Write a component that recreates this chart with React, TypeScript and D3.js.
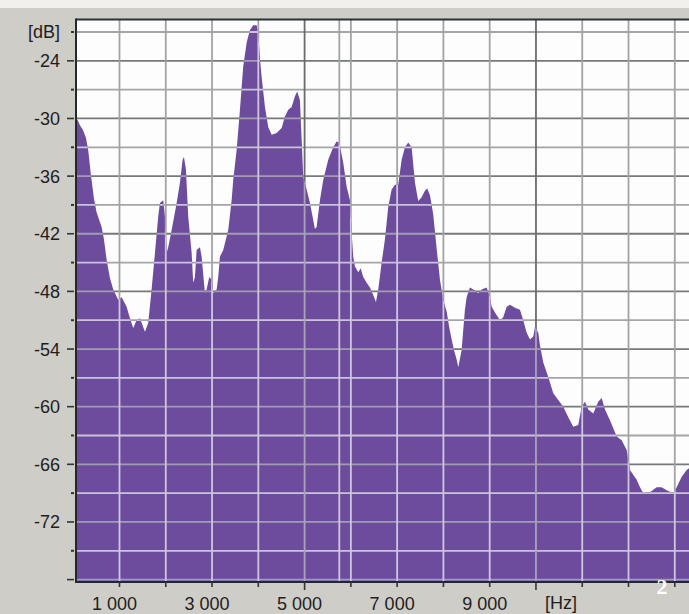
import React from "react";
import * as d3 from "d3";

// spectrum envelope: frequency (Hz) and level (dB)
const FREQ_HZ = [
  60, 100, 145, 210, 275, 324, 383, 447, 506, 614, 664, 722, 793, 865, 973, 1046, 1154, 1225, 1297, 1370,
  1442, 1550, 1621, 1694, 1766, 1837, 1874, 1945, 1982, 2019, 2053, 2127, 2235, 2306, 2364, 2393, 2436, 2485, 2559, 2593,
  2630, 2667, 2738, 2775, 2846, 2883, 2939, 2991, 3026, 3099, 3134, 3170, 3242, 3350, 3423, 3458, 3531, 3603, 3674, 3748,
  3819, 3890, 3964, 3998, 4035, 4072, 4143, 4214, 4288, 4396, 4504, 4575, 4647, 4720, 4791, 4841, 4899, 4936, 4971, 5044,
  5116, 5187, 5223, 5260, 5332, 5403, 5511, 5619, 5692, 5749, 5835, 5909, 5980, 6017, 6051, 6088, 6160, 6211, 6267, 6341,
  6412, 6484, 6542, 6592, 6665, 6736, 6808, 6881, 6952, 7024, 7097, 7169, 7240, 7313, 7385, 7456, 7530, 7602, 7651, 7709,
  7780, 7853, 7925, 7996, 8070, 8120, 8178, 8228, 8286, 8321, 8394, 8429, 8465, 8502, 8573, 8645, 8753, 8826, 8934, 9006,
  9043, 9114, 9222, 9293, 9367, 9438, 9546, 9654, 9725, 9799, 9870, 9942, 9978, 10050, 10086, 10158, 10266, 10374, 10482, 10590,
  10698, 10806, 10914, 10988, 11059, 11130, 11238, 11346, 11420, 11491, 11599, 11744, 11852, 11960, 12031, 12176, 12248, 12319, 12464, 12608,
  12716, 12824, 12967, 13041, 13149, 13257, 13307,
];
const LEVEL_DB = [
  -30.0, -30.2, -30.7, -31.2, -32.0, -33.3, -35.9, -38.3, -39.8, -41.3, -42.6, -44.7, -46.6, -47.8, -48.9, -48.6, -49.6, -50.8, -51.8, -51.0,
  -50.8, -52.2, -51.3, -47.8, -44.0, -40.2, -38.8, -38.5, -40.2, -44.0, -43.4, -41.6, -38.8, -36.7, -34.3, -34.0, -35.3, -40.2, -44.0, -47.1,
  -46.5, -43.7, -43.4, -44.4, -48.2, -47.8, -46.5, -46.8, -48.2, -47.8, -46.5, -44.4, -43.7, -41.6, -38.5, -36.4, -33.3, -29.1, -24.6, -22.1,
  -20.8, -20.3, -20.3, -21.1, -23.7, -25.7, -28.8, -30.9, -31.7, -31.5, -31.0, -29.8, -29.1, -28.8, -27.7, -27.2, -28.1, -32.2, -36.1, -37.4,
  -38.8, -40.6, -41.5, -41.3, -38.5, -36.4, -34.3, -33.0, -32.4, -32.5, -34.6, -37.1, -38.5, -41.9, -44.4, -45.4, -46.0, -45.6, -46.5, -47.1,
  -47.6, -48.4, -49.1, -47.8, -45.0, -42.6, -39.2, -37.4, -36.9, -36.9, -34.3, -33.0, -32.5, -33.0, -36.7, -38.6, -38.2, -37.5, -37.3, -38.0,
  -40.0, -43.5, -46.8, -48.9, -50.1, -51.6, -53.0, -54.1, -55.1, -55.9, -54.1, -52.0, -49.9, -48.6, -47.6, -47.8, -48.2, -47.8, -47.6, -48.6,
  -49.6, -50.2, -51.0, -50.7, -49.6, -49.4, -49.7, -49.9, -51.0, -52.3, -53.0, -52.7, -51.7, -52.3, -53.6, -55.4, -56.9, -58.6, -59.3, -60.0,
  -61.1, -62.1, -61.9, -60.0, -59.5, -60.3, -60.7, -59.5, -59.1, -60.3, -61.4, -63.1, -63.5, -64.5, -66.6, -67.6, -68.4, -69.0, -68.9, -68.4,
  -68.4, -68.7, -69.0, -68.4, -67.3, -66.6, -66.4,
];

// grid / ticks
const DB_GRID = [-21, -24, -27, -30, -33, -36, -39, -42, -45, -48, -51, -54, -57, -60, -63, -66, -69, -72, -75, -78];
const DB_LABELS = [-24, -30, -36, -42, -48, -54, -60, -66, -72];
const HZ_GRID = [1000, 2000, 3000, 4000, 5000, 6000, 7000, 8000, 9000, 10000, 11000, 12000, 13000];
const HZ_MAJOR = [5000, 10000];
const HZ_LABELS = [1000, 3000, 5000, 7000, 9000];
const MARKER_HZ = 5750; // extra cursor line

const W = 689;
const H = 614;
const LEFT = 76;
const TOP = 20;
const BOTTOM = 582;
const FONT = "'Liberation Sans', Arial, sans-serif";

const fmtHz = d3.formatLocale({ decimal: ".", thousands: " ", grouping: [3], currency: ["", ""] }).format(",");

export default function App() {
  const x = d3.scaleLinear().domain([60, 13400]).range([LEFT, 693.3]);
  const y = d3.scaleLinear().domain([-19.75, -78.25]).range([TOP, BOTTOM]);

  const area = d3
    .area<number>()
    .x((_, i) => x(FREQ_HZ[i]))
    .y0(BOTTOM)
    .y1((d) => y(d));
  const spec = area(LEVEL_DB) || "";

  const hLines = DB_GRID.filter((v) => y(v) < BOTTOM - 2);
  const vLines = [...HZ_GRID, MARKER_HZ];
  const isMajorDb = (v: number) => v % 6 === 0;

  const grid = (light: boolean) => (
    <g>
      {hLines.map((v) => (
        <line
          key={"h" + v}
          x1={LEFT}
          x2={W}
          y1={y(v)}
          y2={y(v)}
          stroke={light ? (isMajorDb(v) ? "#a39cb1" : "#cbc3da") : isMajorDb(v) ? "#76787a" : "#a4a5a6"}
          strokeWidth={1.8}
        />
      ))}
      {vLines.map((f) => (
        <line
          key={"v" + f}
          x1={x(f)}
          x2={x(f)}
          y1={TOP}
          y2={BOTTOM}
          stroke={light ? (HZ_MAJOR.includes(f) ? "#aaa3b8" : "#cfc7dd") : HZ_MAJOR.includes(f) ? "#6a6c6e" : "#a2a3a4"}
          strokeWidth={1.8}
        />
      ))}
    </g>
  );

  return (
    <div>
      <style>{"body{margin:0}"}</style>
      <svg width={W} height={H} style={{ display: "block" }}>
        <defs>
          <clipPath id="plotClip">
            <rect x={LEFT} y={TOP} width={W - LEFT} height={BOTTOM - TOP} />
          </clipPath>
          <clipPath id="specClip">
            <path d={spec} />
          </clipPath>
        </defs>

        <rect width={W} height={H} fill="#cfcdc8" />
        <rect width={W} height={8} fill="#f1f0ec" />
        <rect x={LEFT} y={TOP} width={W - LEFT} height={BOTTOM - TOP} fill="#fdfdfd" />

        <g clipPath="url(#plotClip)">
          {grid(false)}
          <path d={spec} fill="#6d4b9d" />
          <g clipPath="url(#specClip)">{grid(true)}</g>
        </g>

        {/* frame */}
        <line x1={LEFT} x2={W} y1={TOP - 0.5} y2={TOP - 0.5} stroke="#2b3236" strokeWidth={2} />
        <line x1={LEFT} x2={LEFT} y1={TOP - 1.5} y2={BOTTOM + 1} stroke="#23282b" strokeWidth={2} />
        <line x1={LEFT} x2={W} y1={BOTTOM} y2={BOTTOM} stroke="#23282b" strokeWidth={2} />

        {/* y ticks and labels */}
        {DB_GRID.map((v) => (
          <line
            key={"yt" + v}
            x1={isMajorDb(v) ? 67 : 71}
            x2={74}
            y1={y(v)}
            y2={y(v)}
            stroke="#333"
            strokeWidth={isMajorDb(v) ? 1.6 : 2}
          />
        ))}
        {DB_LABELS.map((v) => (
          <text key={"yl" + v} x={60} y={y(v)} dy="0.36em" textAnchor="end" fontFamily={FONT} fontSize={18} fill="#1e1e1e">
            {String(v)}
          </text>
        ))}
        <text x={60} y={y(-21)} dy="0.36em" textAnchor="end" fontFamily={FONT} fontSize={18} fill="#1e1e1e">
          [dB]
        </text>

        {/* x ticks and labels */}
        {HZ_GRID.map((f) => (
          <line
            key={"xt" + f}
            x1={x(f)}
            x2={x(f)}
            y1={BOTTOM}
            y2={BOTTOM + (HZ_MAJOR.includes(f) ? 8 : 5)}
            stroke="#333"
            strokeWidth={1.6}
          />
        ))}
        {HZ_LABELS.map((f) => (
          <text key={"xl" + f} x={x(f) - 5} y={610} textAnchor="middle" fontFamily={FONT} fontSize={18} fill="#1e1e1e">
            {fmtHz(f)}
          </text>
        ))}
        <text x={545} y={609} fontFamily={FONT} fontSize={18} fill="#1e1e1e">
          [Hz]
        </text>

        <text x={662} y={594} textAnchor="middle" fontFamily="'Liberation Serif', 'DejaVu Serif', serif" fontWeight="bold" fontSize={22} fill="#ffffff">
          2
        </text>
      </svg>
    </div>
  );
}
